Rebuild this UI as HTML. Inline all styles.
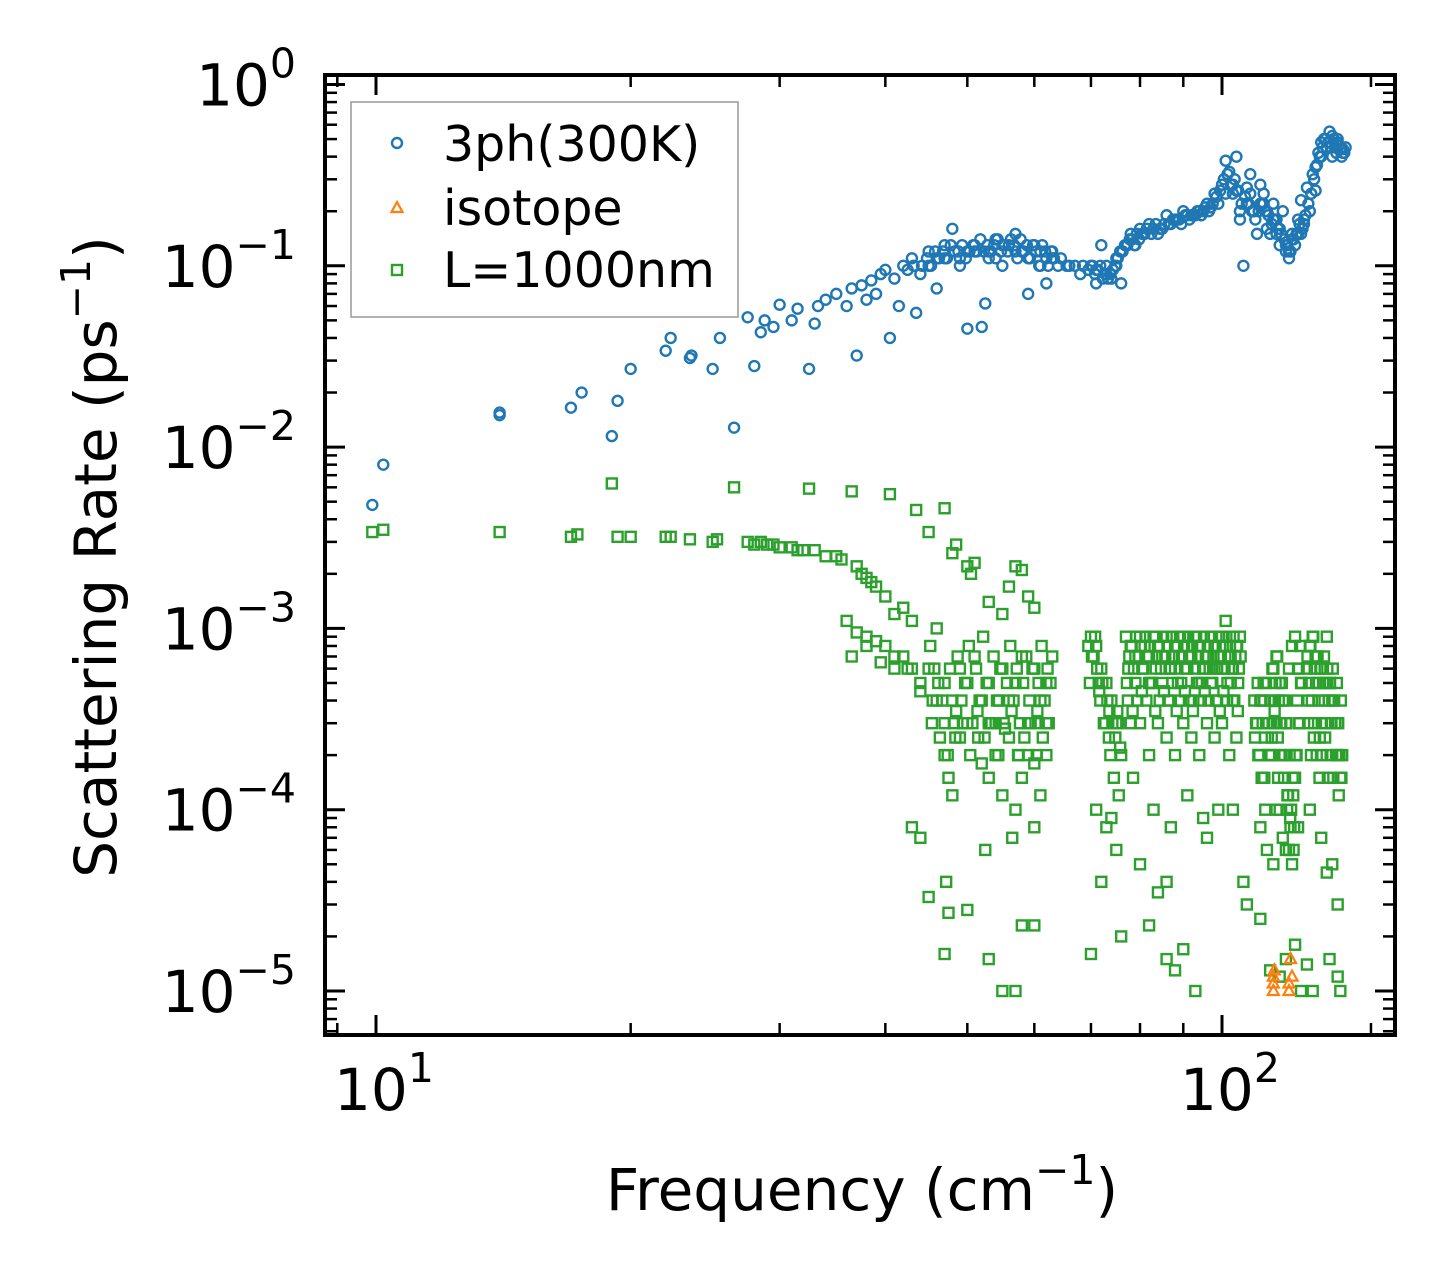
<!DOCTYPE html>
<html><head><meta charset="utf-8"><style>
html,body{margin:0;padding:0;background:#fff;}
svg{display:block;font-family:"DejaVu Sans","Liberation Sans",sans-serif;}
</style></head><body>
<svg id="chart" width="1455" height="1284" viewBox="0 0 1455 1284" xmlns="http://www.w3.org/2000/svg">
<rect width="1455" height="1284" fill="#fff"/>
<g id="marks"></g>
<g id="axes"></g>
</svg>
<script>
const blueX=[9.9,10.2,14,14,17,17.5,19,19.3,20,22,22.3,23.5,23.6,25,25.5,26.5,27.5,28,28.5,28.8,29.5,30,31,31.5,32.5,33,33.3,34,35,36,36.5,37,37.5,38,38.5,39,39.5,40,40.5,41,41.5,42,43,43.5,44,45,46,47,48,49,50,51,52,52.5,53,54,55,56,57,58,59,60,61,62,63,64,66,68,70,71,72,73,74,75,76,77,78,80,82,84,86,88,90,92,94,96,98,100,101,102,103,104,105,106,107,108,109,110,111,112,113,114,115,116,117,118,119,120,121,122,123,124,125,126,127,128,129,130,131,132,133,134,135,136,137,138];
const blueY=[0.0048,0.008,0.015,0.0155,0.0165,0.02,0.0115,0.018,0.027,0.034,0.04,0.031,0.032,0.027,0.04,0.0128,0.052,0.028,0.043,0.05,0.046,0.061,0.05,0.058,0.027,0.048,0.06,0.065,0.07,0.06,0.075,0.032,0.078,0.065,0.083,0.07,0.09,0.095,0.04,0.085,0.06,0.1,0.11,0.055,0.09,0.12,0.075,0.13,0.16,0.11,0.045,0.13,0.046,0.062,0.12,0.14,0.1,0.13,0.15,0.12,0.07,0.13,0.1,0.08,0.12,0.1,0.1,0.09,0.1,0.08,0.13,0.09,0.085,0.11,0.08,0.13,0.15,0.16,0.17,0.15,0.19,0.18,0.2,0.19,0.2,0.22,0.25,0.28,0.38,0.33,0.25,0.4,0.2,0.1,0.27,0.32,0.2,0.15,0.28,0.25,0.2,0.15,0.22,0.18,0.16,0.2,0.12,0.11,0.15,0.13,0.18,0.23,0.17,0.27,0.2,0.32,0.35,0.42,0.48,0.5,0.45,0.55,0.4,0.45,0.5,0.44];
const blueX2=[42.5,43.2,44.2,44.8,45.3,45.8,46.3,46.8,47.3,47.8,48.3,48.8,49.3,49.8,50.3,50.8,51.3,51.8,52.3,52.8,53.3,53.8,54.3,54.8,55.3,55.8,56.3,56.8,57.3,57.8,58.3,58.8,59.3,59.8,60.3,60.8,61.3,61.8,62.3,62.8,63.3,64.5,65.5,67,68.5,69.5,70.3,70.8,71.3,71.8,72.3,72.8,73.3,73.8,74.3,74.8,75.3,75.8,76.3,76.8,77.3,77.8,78.3,78.8,79.3,79.8,80.5,81.5,82.5,83.5,84.5,85.5,86.5,87.5,88.5,89.5,90.5,91.5,92.5,93.5,94.5,95.5,96.5,97.5,98.5,99.5,100.5,101.5,102.5,103.5,104.5,105.5,106.5,107.5,108.5,109.5,110.5,111.5,112.5,113.5,114.5,115.5,116.5,117.5,118.5,119.5,120.5,121.5,122.5,123.5,124.5,125.5,126.5,127.5,128.5,129.5,130.5,131.5,132.5,133.5,134.5,135.5,136.5,137.5,138.5,139,139.5,140,
45,47,49,51,53,55,57,59,61,63,71,73,75,79,83,87,91,95,99,101,103,105,107,109,111,113,115,117,119,121,123,125,129,131,133,135,137,139,46,50,54,58,62,81,85,89,93,97,104,108,112,116,120,124];
const blueY2=[0.095,0.1,0.1,0.11,0.1,0.12,0.11,0.12,0.11,0.13,0.12,0.12,0.13,0.11,0.12,0.13,0.12,0.14,0.12,0.13,0.12,0.13,0.14,0.12,0.13,0.12,0.14,0.13,0.11,0.14,0.12,0.13,0.11,0.13,0.12,0.1,0.13,0.12,0.1,0.12,0.11,0.11,0.1,0.1,0.1,0.095,0.1,0.09,0.095,0.1,0.085,0.09,0.085,0.09,0.095,0.1,0.11,0.12,0.12,0.13,0.13,0.14,0.14,0.13,0.15,0.14,0.15,0.16,0.15,0.17,0.16,0.17,0.17,0.18,0.18,0.17,0.19,0.18,0.19,0.2,0.19,0.21,0.2,0.22,0.24,0.26,0.3,0.32,0.28,0.3,0.26,0.22,0.24,0.22,0.2,0.18,0.2,0.22,0.2,0.19,0.17,0.18,0.16,0.15,0.14,0.13,0.12,0.14,0.15,0.17,0.16,0.19,0.22,0.25,0.3,0.36,0.4,0.45,0.5,0.48,0.45,0.5,0.42,0.46,0.4,0.44,0.42,0.45,
0.1,0.11,0.1,0.12,0.11,0.13,0.12,0.11,0.12,0.11,0.095,0.1,0.1,0.13,0.16,0.17,0.19,0.2,0.22,0.25,0.28,0.18,0.22,0.2,0.22,0.16,0.18,0.13,0.13,0.14,0.15,0.18,0.26,0.4,0.45,0.52,0.48,0.42,0.11,0.12,0.11,0.12,0.11,0.15,0.16,0.18,0.19,0.21,0.26,0.25,0.22,0.15,0.12,0.15];
const isoX=[115,115,115,115.3,120,120,120.5,121];
const isoY=[1e-5,1.1e-5,1.2e-5,1.3e-5,1e-5,1.1e-5,1.5e-5,1.2e-5];
const greenX=[9.9,10.2,14,17,17.3,19,19.3,20,22,22.3,23.5,25,25.3,26.5,27.5,28,28.5,29,29.5,30,31,31.5,32.5,32,33,34,35,35.5,36.5,37,37.5,38,38.5,39,40.5,40,41,42,43,43.5,45,47,46,48,48.5,50,51,50.5,
36,37,38,39,40,41,42,43,44,45,46,47,48,49,50,51,52,53,54,55,56,57,58,59,60,61,62,63,
36.5,38,39.5,41,42.5,44,45.5,47,48.5,50,51.5,53,54.5,56,57.5,59,60.5,62,
47,47.5,48,49,52,53,54,55,57,58,59,60,61,62,47.2,52.5,56.5,60,47.5,53,58,43,44,
70,71,72,73,74,75,76,70.5,71.5,72.5,73.5,74.5,75.5,71,73,75,72,74,76,
77,78,79,80,81,82,83,84,85,86,87,88,89,90,91,92,93,94,95,96,97,98,99,100,101,102,103,104,105,
77.5,79,80.5,82,83.5,85,86.5,88,89.5,91,92.5,94,95.5,97,98.5,100,101.5,103,104.5,
78,80,82,84,86,88,90,92,94,96,98,100,102,104,78.5,83,87,91,95,99,103,80,86,96,101,
110,111,112,113,114,115,116,117,118,119,120,121,122,123,124,
110.5,111.5,112.5,113.5,114.5,115.5,116.5,117.5,118.5,119.5,120.5,121.5,122.5,123.5,
111,113,115,117,119,121,123,112,114,116,118,120,122,
126,127,128,129,130,131,132,133,134,135,136,137,138,126.5,128.5,130.5,132.5,134.5,136.5,127,131,135,137,133,
114,117,119,122,124,128,134,137,138,126,111,93,90,88,86,84,82,70,60,57,55,50,47,45,106,107];
const greenY=[0.0034,0.0035,0.0034,0.0032,0.0033,0.0063,0.0032,0.0032,0.0032,0.0032,0.0031,0.003,0.0031,0.006,0.003,0.0029,0.003,0.0029,0.0029,0.0028,0.0028,0.0027,0.0059,0.0027,0.0027,0.0025,0.0025,0.0024,0.0057,0.0022,0.002,0.0019,0.0018,0.0017,0.0055,0.0015,0.0012,0.0013,0.0011,0.0045,0.0034,0.0046,0.001,0.0026,0.0029,0.0022,0.0023,0.002,
0.0011,0.00095,0.0009,0.00085,0.0008,0.0007,0.0007,0.0006,0.0005,0.0006,0.0004,0.0005,0.0004,0.0006,0.0005,0.0007,0.0004,0.0005,0.0003,0.0006,0.0004,0.0005,0.0007,0.0003,0.0006,0.0004,0.0005,0.0007,
0.0007,0.0008,0.00065,0.0006,0.0006,0.00045,0.0004,0.0003,0.00035,0.0003,0.00025,0.0003,0.0004,0.00025,0.0002,0.0003,0.00035,0.0003,
0.0002,0.00015,0.00012,0.00025,0.00018,0.00015,0.0002,0.00012,0.0001,0.00015,0.0002,0.00018,0.00012,0.0002,0.00004,0.00006,0.00007,0.00008,0.000027,0.000015,0.000023,0.00008,0.00007,
0.0009,0.0008,0.0006,0.0005,0.0004,0.0003,0.0002,0.0007,0.0005,0.0003,0.00025,0.00015,0.00012,0.0001,0.00008,0.00006,0.00004,0.00009,0.00002,
0.0009,0.0008,0.0007,0.0009,0.0008,0.0007,0.0009,0.0008,0.0007,0.0009,0.0006,0.0008,0.0007,0.0009,0.0008,0.0007,0.0009,0.0008,0.0006,0.0007,0.0009,0.0008,0.0007,0.0009,0.0008,0.0007,0.0006,0.0008,0.0009,
0.0006,0.0005,0.0006,0.0005,0.0006,0.0005,0.0004,0.0006,0.0005,0.0006,0.0004,0.0005,0.0006,0.0005,0.0004,0.0006,0.0005,0.0004,0.0005,
0.0003,0.0003,0.0002,0.0003,0.00025,0.0002,0.0003,0.00025,0.0002,0.0003,0.00025,0.0003,0.0002,0.00025,0.00015,0.0001,0.00008,0.00012,0.00009,0.0001,0.0001,0.00005,0.00004,0.00007,0.0011,
0.0003,0.0004,0.0005,0.0003,0.0002,0.0006,0.0007,0.0005,0.0004,0.0003,0.0006,0.0008,0.0009,0.0006,0.0005,
0.0002,0.00015,0.0001,0.0003,0.00025,0.0004,0.00015,0.0003,0.0002,0.00012,0.00008,0.00006,0.0002,0.0003,
0.00008,0.00006,0.00005,0.0001,0.00006,0.00005,0.00008,0.0004,0.0002,0.0001,0.00007,0.00006,0.00015,
0.0006,0.0008,0.0009,0.0007,0.0005,0.0006,0.0007,0.0009,0.0005,0.0004,0.0003,0.0002,0.00015,0.0004,0.0003,0.00025,0.0005,0.0003,0.0002,0.0001,0.00007,0.00005,0.00003,0.000045,
0.000013,0.000012,0.000015,0.000018,0.00001,0.00001,0.000015,0.000012,0.00001,0.000014,0.000025,0.00001,0.000017,0.000013,0.000015,0.000035,0.000023,0.000016,0.000023,0.00001,0.00001,0.000028,0.000016,0.000033,0.00004,0.00003];
const greenX2=[45.2,45.7,46.2,46.7,47.7,48.2,48.7,49.2,49.7,50.2,50.7,51.2,51.7,52.2,52.7,53.2,53.7,54.2,54.7,55.2,55.7,56.2,56.7,57.2,57.7,58.2,58.7,59.2,59.7,60.2,60.7,61.2,61.7,62.2,62.7,
45.4,46.4,47.4,48.4,49.4,50.4,51.4,52.4,53.4,54.4,55.4,56.4,57.4,58.4,59.4,60.4,61.4,62.4,
69.5,70.2,70.8,71.2,71.8,72.2,72.8,73.2,73.8,74.2,74.8,75.2,75.8,69.8,71.6,73.6,75.4,
77.2,77.7,78.2,78.7,79.2,79.7,80.2,80.7,81.2,81.7,82.2,82.7,83.2,83.7,84.2,84.7,85.2,85.7,86.2,86.7,87.2,87.7,88.2,88.7,89.2,89.7,90.2,90.7,91.2,91.7,92.2,92.7,93.2,93.7,94.2,94.7,95.2,95.7,96.2,96.7,97.2,97.7,98.2,98.7,99.2,99.7,100.2,100.7,101.2,101.7,102.2,102.7,103.2,103.7,104.2,104.7,105.2,
77.4,78.4,79.4,80.4,81.4,82.4,83.4,84.4,85.4,86.4,87.4,88.4,89.4,90.4,91.4,92.4,93.4,94.4,95.4,96.4,97.4,98.4,99.4,100.4,101.4,102.4,103.4,104.4,
109.2,109.7,110.2,110.7,111.2,111.7,112.2,112.7,113.2,113.7,114.2,114.7,115.2,115.7,116.2,116.7,117.2,117.7,118.2,118.7,119.2,119.7,120.2,120.7,121.2,121.7,122.2,122.7,123.2,123.7,124.2,
109.4,110.4,111.4,112.4,113.4,114.4,115.4,116.4,117.4,118.4,119.4,120.4,121.4,122.4,123.4,
126.2,126.7,127.2,127.7,128.2,128.7,129.2,129.7,130.2,130.7,131.2,131.7,132.2,132.7,133.2,133.7,134.2,134.7,135.2,135.7,136.2,136.7,137.2,137.7,138.2,138.7,
126.4,127.4,128.4,129.4,130.4,131.4,132.4,133.4,134.4,135.4,136.4,137.4,138.4,
53,55,56,57,58,59,60];
const greenY2=[0.0008,0.0006,0.0005,0.0004,0.0006,0.0003,0.0007,0.0004,0.0005,0.0008,0.0003,0.0006,0.0004,0.0009,0.0005,0.0003,0.0007,0.0004,0.0006,0.0003,0.0005,0.0008,0.0004,0.0006,0.0003,0.0005,0.0007,0.0004,0.0006,0.0003,0.0005,0.0008,0.0004,0.0006,0.0005,
0.0003,0.00025,0.0002,0.00025,0.0003,0.0002,0.00035,0.00025,0.0003,0.0002,0.00028,0.00035,0.0002,0.00025,0.0003,0.0002,0.00025,0.0003,
0.0008,0.0007,0.0009,0.0006,0.0004,0.0005,0.0003,0.0004,0.0002,0.0003,0.00025,0.00035,0.00022,0.0005,0.00045,0.00035,0.0003,
0.0005,0.0007,0.0008,0.0006,0.0009,0.0007,0.0008,0.0006,0.0009,0.0007,0.0008,0.0005,0.0009,0.0007,0.0008,0.0006,0.0009,0.0007,0.0008,0.0006,0.0009,0.0007,0.0008,0.0005,0.0009,0.0007,0.0008,0.0006,0.0009,0.0007,0.0008,0.0006,0.0009,0.0007,0.0008,0.0005,0.0009,0.0007,0.0008,0.0006,0.0009,0.0007,0.0008,0.0006,0.0009,0.0007,0.0008,0.0006,0.0009,0.0007,0.0008,0.0006,0.0009,0.0007,0.0008,0.0006,0.0007,
0.0004,0.00035,0.0004,0.00045,0.0004,0.0005,0.00035,0.0004,0.00045,0.0004,0.0005,0.00035,0.0004,0.00045,0.0004,0.00035,0.0005,0.0004,0.00045,0.0004,0.0005,0.0004,0.00035,0.00045,0.0004,0.0005,0.0004,0.00035,
0.0004,0.0003,0.0005,0.0002,0.0004,0.0003,0.00015,0.0005,0.0003,0.0002,0.0004,0.0006,0.0003,0.0005,0.0007,0.0004,0.0003,0.0005,0.0002,0.0004,0.0003,0.00012,0.0002,0.0001,0.00015,0.00008,0.0002,0.0004,0.0006,0.0008,0.0005,
0.00025,0.0002,0.00015,0.00025,0.0003,0.0002,0.00035,0.00025,0.0002,0.00015,0.0001,0.00009,0.00012,0.0002,0.0003,
0.0007,0.0005,0.0008,0.0004,0.0009,0.0006,0.0005,0.0007,0.0004,0.0006,0.0003,0.0005,0.0004,0.0003,0.0006,0.0004,0.0005,0.0003,0.0006,0.0004,0.0003,0.0005,0.0003,0.0002,0.0004,0.0002,
0.0003,0.0002,0.00025,0.0002,0.00015,0.0002,0.00025,0.00015,0.0002,0.00015,0.0002,0.00012,0.00015,
0.0014,0.0012,0.0017,0.0022,0.0021,0.0015,0.0013];
const xTickVals=[10,100];
const xTickLabels=["1","2"];
const yTickVals=[1,0.1,0.01,0.001,0.0001,0.00001];
const yTickLabels=["0","\u22121","\u22122","\u22123","\u22124","\u22125"];

const L=325,R=1395,T=75,B=1035;
const X0=376,XD=846,Y0=84.5,YD=181.3;
function sx(v){return X0+(Math.log10(v)-1)*XD;}
function sy(v){return Y0-Math.log10(v)*YD;}
const NS="http://www.w3.org/2000/svg";
function mk(tag,attrs,parent){const e=document.createElementNS(NS,tag);for(const k in attrs)e.setAttribute(k,attrs[k]);parent.appendChild(e);return e;}
const marks=document.getElementById('marks');
const axes=document.getElementById('axes');

function drawGreen(xs,ys){
  for(let i=0;i<xs.length;i++){
    const x=sx(xs[i]),y=sy(ys[i]);
    const r=mk('rect',{x:x-5,y:y-5,width:10,height:10,fill:'none',stroke:'#2ca02c','stroke-width':2.4},marks);
    
    
  }
}
function drawBlue(xs,ys){
  for(let i=0;i<xs.length;i++){
    const c=mk('circle',{cx:sx(xs[i]),cy:sy(ys[i]),r:5,fill:'none',stroke:'#1f77b4','stroke-width':2.4},marks);
    
    
  }
}
drawGreen(greenX,greenY);
drawGreen(greenX2,greenY2);
drawBlue(blueX,blueY);
drawBlue(blueX2,blueY2);
for(let i=0;i<isoX.length;i++){
  const x=sx(isoX[i]),y=sy(isoY[i]);
  const p=mk('polygon',{points:`${x},${y-6} ${x-5.5},${y+4} ${x+5.5},${y+4}`,fill:'none',stroke:'#ff7f0e','stroke-width':2.2},marks);
  
  
}

const fr=mk('rect',{x:L,y:T,width:R-L,height:B-T,fill:'none',stroke:'#000','stroke-width':4},axes);



const xMinor=[9,20,30,40,50,60,70,80,90,150];
for(const v of xMinor){const x=sx(v);mk('line',{x1:x,y1:B,x2:x,y2:B-12,stroke:'#000','stroke-width':2.5},axes);mk('line',{x1:x,y1:T,x2:x,y2:T+12,stroke:'#000','stroke-width':2.5},axes);}
for(let i=0;i<xTickVals.length;i++){
  const x=sx(xTickVals[i]);
  mk('line',{x1:x,y1:B,x2:x,y2:B-20,stroke:'#000','stroke-width':3},axes);
  mk('line',{x1:x,y1:T,x2:x,y2:T+20,stroke:'#000','stroke-width':3},axes);
  const t=mk('text',{x:x-42,y:1110,'font-size':58},axes);
  
  
  t.innerHTML=`10<tspan dy="-28" font-size="41">${xTickLabels[i]}</tspan>`;
}
for(let d=0;d>=-6;d--){for(let m=2;m<=9;m++){const v=m*Math.pow(10,d);const y=sy(v);if(y<T||y>B)continue;mk('line',{x1:L,y1:y,x2:L+12,y2:y,stroke:'#000','stroke-width':2.5},axes);mk('line',{x1:R,y1:y,x2:R-12,y2:y,stroke:'#000','stroke-width':2.5},axes);}}
for(let i=0;i<yTickVals.length;i++){
  const y=sy(yTickVals[i]);
  mk('line',{x1:L,y1:y,x2:L+20,y2:y,stroke:'#000','stroke-width':3},axes);
  mk('line',{x1:R,y1:y,x2:R-20,y2:y,stroke:'#000','stroke-width':3},axes);
  const t=mk('text',{x:296,y:y+21,'font-size':58,'text-anchor':'end'},axes);
  
  
  t.innerHTML=`10<tspan dy="-28" font-size="41">${yTickLabels[i]}</tspan>`;
}
const xt=mk('text',{x:862,y:1210,'font-size':58,'text-anchor':'middle'},axes);


xt.innerHTML='Frequency (cm<tspan dy="-26" font-size="41">\u22121</tspan><tspan dy="26">)</tspan>';
const yt=mk('text',{x:0,y:0,'font-size':58,'text-anchor':'middle',transform:'translate(116,557) rotate(-90)'},axes);


yt.innerHTML='Scattering Rate (ps<tspan dy="-26" font-size="41">\u22121</tspan><tspan dy="26">)</tspan>';

const lg=mk('g',{},axes);


mk('rect',{x:351,y:102,width:387,height:215,fill:'#fff',stroke:'#999','stroke-width':1.5},lg);
mk('circle',{cx:397,cy:143,r:5,fill:'none',stroke:'#1f77b4','stroke-width':2.4},lg);
mk('polygon',{points:'397,202 391.5,212 402.5,212',fill:'none',stroke:'#ff7f0e','stroke-width':2.2},lg);
mk('rect',{x:392,y:265,width:10,height:10,fill:'none',stroke:'#2ca02c','stroke-width':2.4},lg);
const labels=[["3ph(300K)",161],["isotope",225],["L=1000nm",287]];
for(const [s,y] of labels){const t=mk('text',{x:443,y:y,'font-size':49},lg);t.textContent=s;}
</script>
</body></html>
